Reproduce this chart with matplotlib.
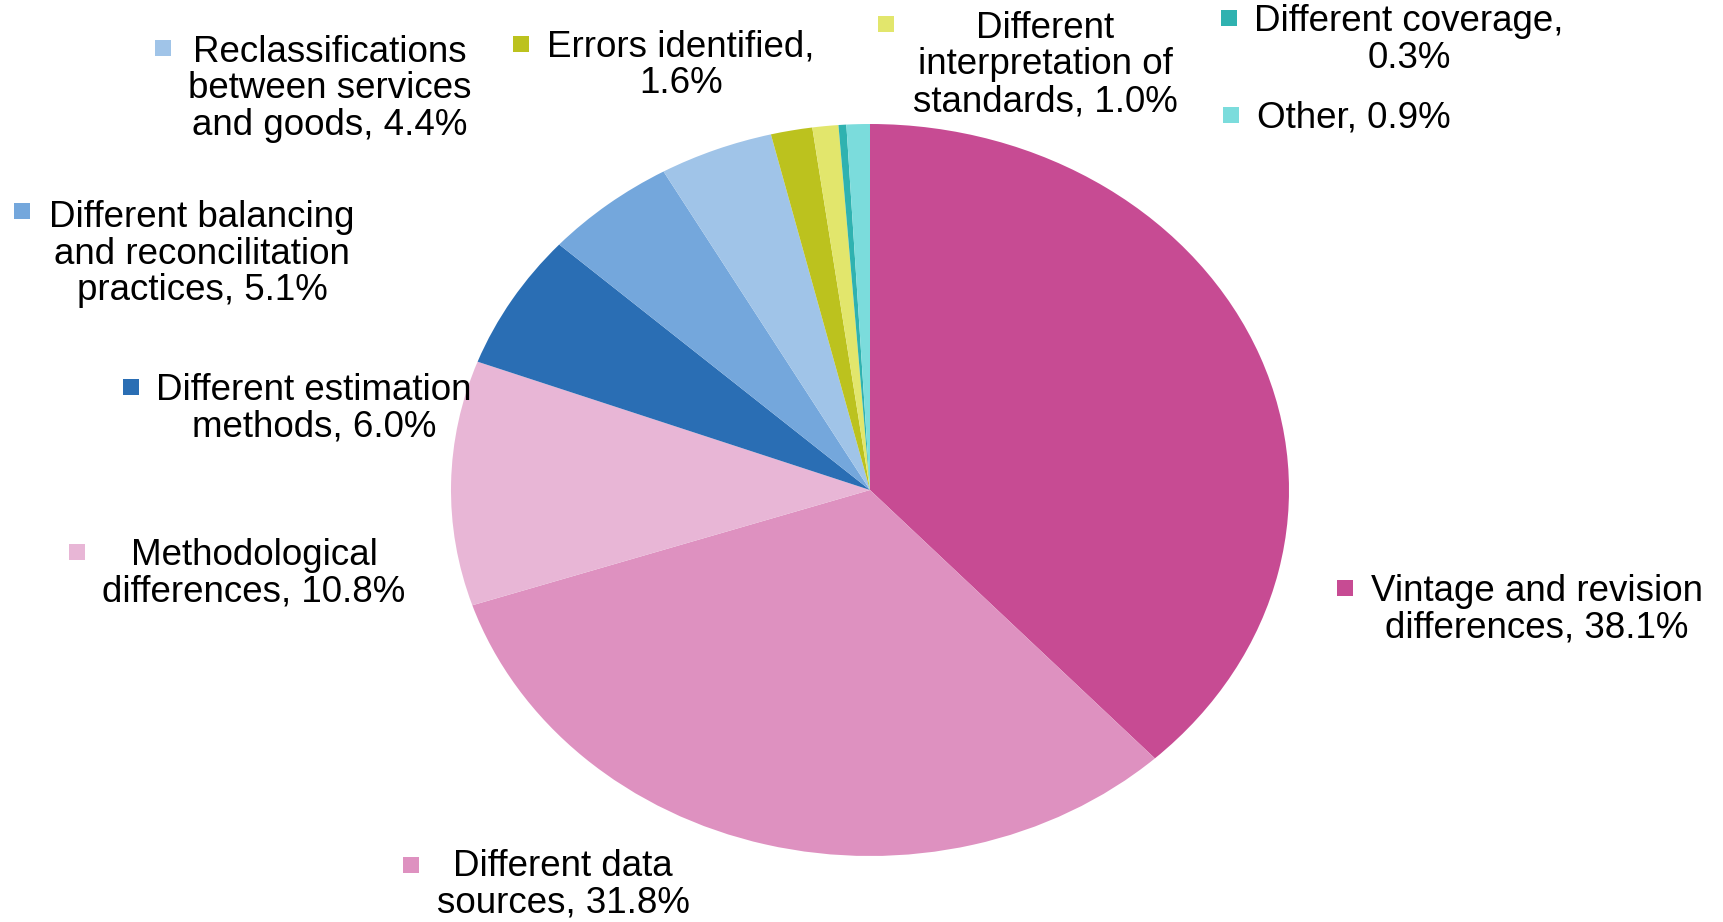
import matplotlib
matplotlib.use("Agg")
import matplotlib.pyplot as plt
from matplotlib.patches import Rectangle

plt.rcParams['font.family'] = ['Liberation Sans', 'DejaVu Sans']

# ---- data ----
categories = [
    "Vintage and revision\ndifferences",
    "Different data\nsources",
    "Methodological\ndifferences",
    "Different estimation\nmethods",
    "Different balancing\nand reconcilitation\npractices",
    "Reclassifications\nbetween services\nand goods",
    "Errors identified,\n",
    "Different\ninterpretation of\nstandards",
    "Different coverage,\n",
    "Other",
]
values = [38.1, 31.8, 10.8, 6.0, 5.1, 4.4, 1.6, 1.0, 0.3, 0.9]
colors = ["#C74B93", "#DE91C0", "#E8B6D6", "#2A6EB4", "#74A7DC",
          "#A0C4E8", "#BCC21E", "#E2E66C", "#2FB2B0", "#7BDCDC"]

# ---- layout (pixel coords of figure, y from top) ----
W, H = 1723, 922
label_centers = [(1537, 610), (563, 885), (254, 574), (314, 409), (202, 254),
                 (330, 89), (681, 65), (1045, 65), (1409, 40), (1350, 118)]
marker_pos = [(1345, 588), (411, 865), (77, 552), (131, 387), (22, 211),
              (163, 48), (521, 44), (886, 24), (1229, 18), (1231, 115)]

fig = plt.figure(figsize=(W / 100, H / 100), dpi=100)
fig.patch.set_facecolor("white")

cx, cy, rx, ry = 870, 490, 419, 366
ax = fig.add_axes([(cx - rx) / W, (H - cy - ry) / H, 2 * rx / W, 2 * ry / H])
ax.pie(values, colors=colors, startangle=90, counterclock=False,
       radius=1, wedgeprops=dict(linewidth=0))
ax.set_aspect('auto')
ax.set_xlim(-1, 1)
ax.set_ylim(-1, 1)
ax.axis('off')

ov = fig.add_axes([0, 0, 1, 1])
ov.set_xlim(0, W)
ov.set_ylim(H, 0)
ov.axis('off')

FS = 26.5
for cat, val, col, (lx, ly), (mx, my) in zip(categories, values, colors,
                                              label_centers, marker_pos):
    if cat.endswith("\n"):
        txt = f"{cat}{val:.1f}%"
    else:
        txt = f"{cat}, {val:.1f}%"
    if cat == "Other":
        ov.text(1257, ly, txt, ha='left', va='center', fontsize=FS, color='black')
    else:
        ov.text(lx, ly, txt, ha='center', va='center', fontsize=FS,
                color='black', multialignment='center', linespacing=1.07)
    s = 16
    ov.add_patch(Rectangle((mx - s / 2, my - s / 2), s, s, facecolor=col,
                           edgecolor='none'))

fig.savefig("out.png", dpi=100, facecolor="white")
